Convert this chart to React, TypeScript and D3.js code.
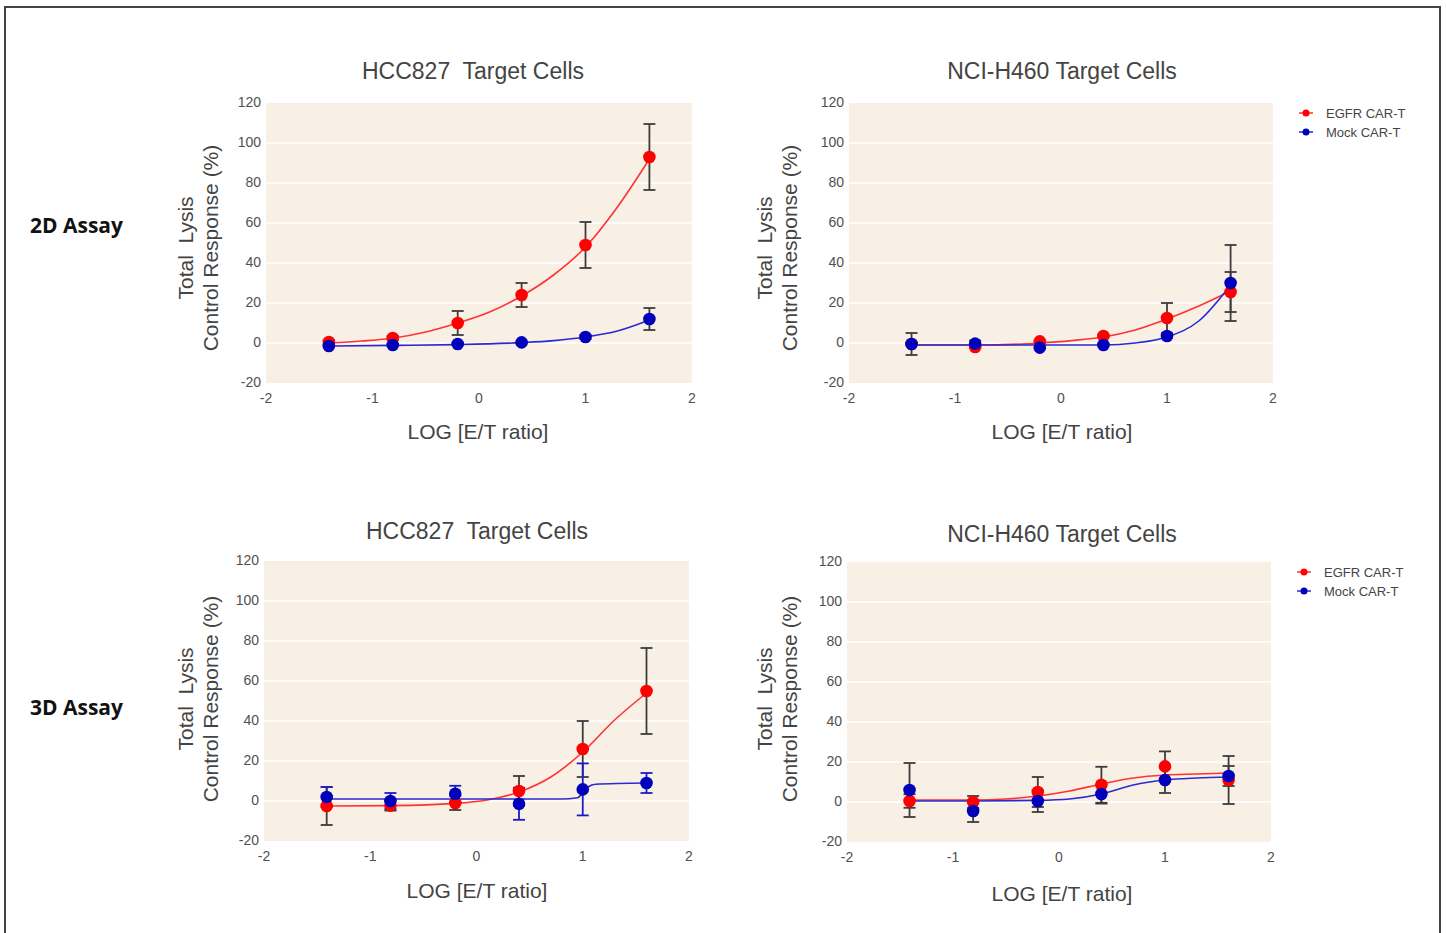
import React, { useEffect } from 'react';
import * as d3 from 'd3';

// log10 of the E/T ratios used on every panel
const LOG_ET = [-1.41, -0.81, -0.2, 0.4, 1.0, 1.6];

const Y_TICKS = [-20, 0, 20, 40, 60, 80, 100, 120];
const X_TICKS = [-2, -1, 0, 1, 2];

// 2D assay, HCC827
const egfr2dHcc = [0.5, 2.5, 10, 24, 49, 93];
const egfr2dHccErr = [1, 1, 6, 6, 11.5, 16.5];
const mock2dHcc = [-1.5, -1, -0.5, 0.3, 3, 12];
const mock2dHccErr = [0.5, 0.5, 0.5, 0.5, 1, 5.5];
const egfr2dHccFit = [[-1.4, 0], [-1.1, 1], [-0.8, 2.5], [-0.5, 5.5], [-0.2, 10], [0.1, 15.5], [0.4, 23.5], [0.7, 34], [1.0, 48], [1.3, 68], [1.6, 92]];
const mock2dHccFit = [[-1.4, -1.5], [-0.8, -1.2], [-0.2, -0.8], [0.4, 0.2], [0.7, 1.2], [1.0, 3], [1.3, 6], [1.6, 11.5]];

// 2D assay, NCI-H460
const egfr2dH460 = [-0.5, -2, 0.8, 3.5, 12.5, 25.5];
const egfr2dH460Err = [0.5, 0.5, 0.5, 0.5, 7.5, 10];
const mock2dH460 = [-0.5, -0.3, -2.3, -1, 3.5, 30];
const mock2dH460Err = [5.5, 1.5, 0.5, 0.5, 1, 19];
const egfr2dH460Fit = [[-1.4, -1], [-0.8, -1], [-0.2, 0], [0.1, 1.2], [0.4, 3], [0.7, 6.5], [1.0, 12], [1.3, 18.5], [1.6, 26]];
const mock2dH460Fit = [[-1.4, -1], [-0.8, -1], [-0.2, -1], [0.4, -1], [0.7, 0], [1.0, 3], [1.3, 11], [1.6, 29]];

// 3D assay, HCC827
const egfr3dHcc = [-2.5, -2.3, -1, 5, 26, 55];
const egfr3dHccErr = [9.5, 2.5, 3.5, 7.5, 14, 21.5];
const mock3dHcc = [2, 0, 3.6, -1.4, 5.8, 9];
const mock3dHccErr = [5, 4, 4, 8, 13, 5];
const egfr3dHccFit = [[-1.4, -2.5], [-0.8, -2.3], [-0.2, -1.2], [0.1, 0.5], [0.4, 4.5], [0.7, 12], [1.0, 24.5], [1.3, 40.5], [1.6, 54]];
const mock3dHccFit = [[-1.4, 1], [0.8, 1], [0.95, 1.6], [1.0, 4], [1.05, 7], [1.12, 8.4], [1.6, 9]];

// 3D assay, NCI-H460
const egfr3dH460 = [0.5, 0, 5, 8.6, 17.8, 11];
const egfr3dH460Err = [3.4, 3, 7.5, 9, 7.5, 12];
const mock3dH460 = [6, -4.5, 0.5, 4, 11, 13];
const mock3dH460Err = [13.5, 5.5, 5.5, 4.8, 6.5, 5];
const egfr3dH460Fit = [[-1.4, 1], [-0.8, 1], [-0.5, 1.5], [-0.2, 3], [0.1, 5.5], [0.4, 9], [0.7, 12], [1.0, 13.5], [1.3, 14], [1.6, 14.5]];
const mock3dH460Fit = [[-1.4, 0.5], [-0.8, 0.5], [-0.2, 0.8], [0.1, 1.5], [0.4, 4], [0.7, 8.5], [1.0, 11], [1.3, 12], [1.6, 12.5]];

const SERIES_NAMES = ['EGFR CAR-T', 'Mock CAR-T'];

const RED = '#ff0000';
const RED_LINE = '#ff3333';
const BLUE = '#0000bb';
const BLUE_LINE = '#2a2ad0';
const BAR = '#3c3c3c';
const TEXT = '#505050';
const FONT = '"Liberation Sans", Arial, sans-serif';

const panels = [
  { title: 'HCC827  Target Cells', box: [266, 692, 103, 383], tx: 473, ty: 79, lx: 478, ly: 439, ylx: 193, yly: 248,
    egfr: egfr2dHcc, egfrErr: egfr2dHccErr, mock: mock2dHcc, mockErr: mock2dHccErr, egfrFit: egfr2dHccFit, mockFit: mock2dHccFit, blueBars: false, legend: false },
  { title: 'NCI-H460 Target Cells', box: [849, 1273, 103, 383], tx: 1062, ty: 79, lx: 1062, ly: 439, ylx: 772, yly: 248,
    egfr: egfr2dH460, egfrErr: egfr2dH460Err, mock: mock2dH460, mockErr: mock2dH460Err, egfrFit: egfr2dH460Fit, mockFit: mock2dH460Fit, blueBars: false, legend: true },
  { title: 'HCC827  Target Cells', box: [264, 689, 561, 841], tx: 477, ty: 539, lx: 477, ly: 898, ylx: 193, yly: 699,
    egfr: egfr3dHcc, egfrErr: egfr3dHccErr, mock: mock3dHcc, mockErr: mock3dHccErr, egfrFit: egfr3dHccFit, mockFit: mock3dHccFit, blueBars: true, legend: false },
  { title: 'NCI-H460 Target Cells', box: [847, 1271, 562, 842], tx: 1062, ty: 542, lx: 1062, ly: 901, ylx: 772, yly: 699,
    egfr: egfr3dH460, egfrErr: egfr3dH460Err, mock: mock3dH460, mockErr: mock3dH460Err, egfrFit: egfr3dH460Fit, mockFit: mock3dH460Fit, blueBars: false, legend: true },
];

const Panel: React.FC<{ p: any }> = ({ p }) => {
  const [x0, x1, y0, y1] = p.box;
  const x = d3.scaleLinear().domain([-2, 2]).range([x0, x1]);
  const y = d3.scaleLinear().domain([-20, 120]).range([y1, y0]);
  const line = d3.line<number[]>().x(d => x(d[0])).y(d => y(d[1])).curve(d3.curveMonotoneX);

  const errBars = (vals: number[], errs: number[], color: string) =>
    vals.map((v, i) => {
      const cx = x(LOG_ET[i]);
      const top = y(v + errs[i]);
      const bot = y(v - errs[i]);
      return (
        <g key={i} stroke={color} strokeWidth={1.8}>
          <line x1={cx} x2={cx} y1={top} y2={bot} />
          <line x1={cx - 6} x2={cx + 6} y1={top} y2={top} />
          <line x1={cx - 6} x2={cx + 6} y1={bot} y2={bot} />
        </g>
      );
    });

  return (
    <g fontFamily={FONT}>
      <rect x={x0} y={y0} width={x1 - x0} height={y1 - y0} fill="#f9f0e5" />
      {Y_TICKS.slice(1, -1).map(t => (
        <line key={t} x1={x0} x2={x1} y1={y(t)} y2={y(t)} stroke="#ffffff" strokeWidth={1.5} />
      ))}
      {Y_TICKS.map(t => (
        <text key={t} x={x0 - 5} y={y(t)} dy="0.3em" textAnchor="end" fontSize={14} fill={TEXT}>{t}</text>
      ))}
      {X_TICKS.map(t => (
        <text key={t} x={x(t)} y={y1 + 20} textAnchor="middle" fontSize={14} fill={TEXT}>{t}</text>
      ))}
      <text x={p.tx} y={p.ty} textAnchor="middle" fontSize={23} fill="#444" style={{ whiteSpace: 'pre' }}>{p.title}</text>
      <text x={p.lx} y={p.ly} textAnchor="middle" fontSize={21} fill="#444">LOG [E/T ratio]</text>
      <g transform={`translate(${p.ylx},${p.yly}) rotate(-90)`} fontSize={21} fill="#444" textAnchor="middle">
        <text x={0} y={0} style={{ whiteSpace: 'pre' }}>Total  Lysis</text>
        <text x={0} y={25}>Control Response (%)</text>
      </g>

      {errBars(p.egfr, p.egfrErr, BAR)}
      {errBars(p.mock, p.mockErr, p.blueBars ? '#1a1acc' : BAR)}

      <path d={line(p.egfrFit) || ''} fill="none" stroke={RED_LINE} strokeWidth={1.6} />
      <path d={line(p.mockFit) || ''} fill="none" stroke={BLUE_LINE} strokeWidth={1.6} />

      {p.egfr.map((v: number, i: number) => (
        <circle key={'r' + i} cx={x(LOG_ET[i])} cy={y(v)} r={6.3} fill={RED} />
      ))}
      {p.mock.map((v: number, i: number) => (
        <circle key={'b' + i} cx={x(LOG_ET[i])} cy={y(v)} r={6.3} fill={BLUE} />
      ))}

      {p.legend && SERIES_NAMES.map((name, i) => {
        const ly = y0 + 10 + i * 19;
        return (
          <g key={name}>
            <line x1={x1 + 26} x2={x1 + 40} y1={ly} y2={ly} stroke={i === 0 ? RED_LINE : BLUE_LINE} strokeWidth={1.5} />
            <circle cx={x1 + 33} cy={ly} r={3.5} fill={i === 0 ? RED : BLUE} />
            <text x={x1 + 53} y={ly} dy="0.35em" fontSize={13} fill="#444">{name}</text>
          </g>
        );
      })}
    </g>
  );
};

const App: React.FC = () => {
  useEffect(() => {
    document.body.style.margin = '0';
  }, []);

  return (
    <svg width={1446} height={933} style={{ display: 'block', background: '#fff' }}>
      <rect x={5} y={7} width={1435} height={960} fill="none" stroke="#444" strokeWidth={2} />
      <text x={30} y={233} fontFamily='"Open Sans", sans-serif' fontWeight="bold" fontSize={21} fill="#111">2D Assay</text>
      <text x={30} y={715} fontFamily='"Open Sans", sans-serif' fontWeight="bold" fontSize={21} fill="#111">3D Assay</text>
      {panels.map((p, i) => <Panel key={i} p={p} />)}
    </svg>
  );
};

export default App;
